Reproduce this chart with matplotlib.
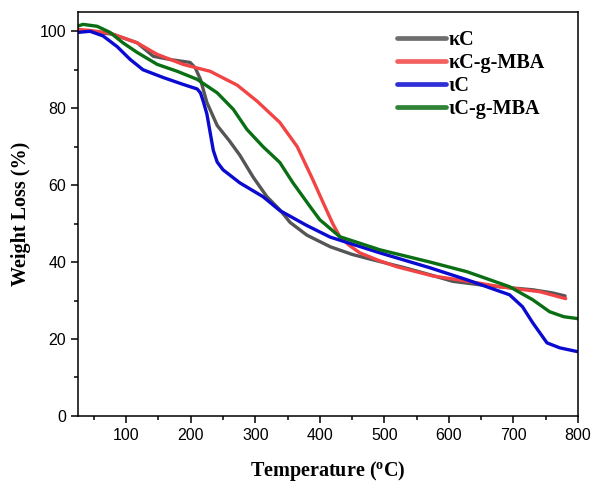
import matplotlib
matplotlib.use("Agg")
import matplotlib.pyplot as plt
from matplotlib.ticker import MultipleLocator

# kappa-carrageenan
kc_t = [24, 45, 80, 117, 142, 170, 199, 207, 215, 225, 241, 260, 276, 297, 318, 338, 354, 380,
        416, 450, 482, 530, 571, 606, 648, 690, 730, 760, 780]
kc_w = [100.2, 100.0, 99.2, 97.0, 93.5, 92.6, 91.9, 90.5, 87.5, 81.5, 75.5, 71.5, 67.8, 62.0, 57.0,
        53.6, 50.3, 47.0, 44.0, 42.0, 40.6, 38.6, 36.7, 35.0, 34.1, 33.4, 32.8, 32.0, 31.2]

# kappa-carrageenan-g-MBA
kcg_t = [24, 45, 75, 117, 148, 188, 230, 272, 303, 338, 365, 389, 405, 420, 431, 446, 462,
         490, 519, 575, 630, 679, 741, 781]
kcg_w = [100.5, 100.2, 99.5, 97.0, 94.0, 91.4, 89.6, 86.0, 81.8, 76.3, 70.0, 61.5, 55.5, 50.0,
         46.6, 44.3, 42.4, 40.5, 38.8, 36.4, 35.0, 33.6, 32.3, 30.5]

# iota-carrageenan
ic_t = [24, 44, 64, 86, 106, 126, 157, 188, 210, 215, 219, 225, 235, 241, 250, 276, 312, 338,
        380, 416, 493, 571, 628, 694, 714, 730, 752, 772, 800]
ic_w = [99.7, 100.0, 98.8, 96.0, 92.7, 90.0, 88.0, 86.2, 85.0, 84.0, 82.0, 78.5, 69.0, 66.0, 64.0,
        60.6, 57.0, 53.4, 49.5, 46.5, 42.4, 38.5, 35.4, 31.5, 28.4, 24.2, 19.0, 17.7, 16.7]

# iota-carrageenan-g-MBA
icg_t = [24, 33, 55, 75, 95, 117, 148, 179, 210, 241, 266, 287, 312, 338, 358, 385, 400, 431,
         493, 571, 628, 694, 730, 756, 778, 800]
icg_w = [101.3, 101.8, 101.3, 99.7, 97.0, 94.5, 91.4, 89.6, 87.5, 84.0, 79.7, 74.5, 70.0, 65.9,
         60.7, 54.4, 51.0, 46.6, 43.2, 40.0, 37.5, 33.6, 30.2, 27.1, 25.8, 25.3]

labels = ["\u03baC", "\u03baC-g-MBA", "\u03b9C", "\u03b9C-g-MBA"]
colors = ["#555555", "#f24444", "#0a0ad0", "#0a6e14"]

fig = plt.figure(figsize=(5.94, 4.82), dpi=100)
ax = fig.add_axes([0.131, 0.137, 0.842, 0.838])

series = [(kc_t, kc_w), (kcg_t, kcg_w), (ic_t, ic_w), (icg_t, icg_w)]
for (t, w), lab, c in zip(series, labels, colors):
    ax.plot(t, w, color=c, lw=2.4, label=lab, solid_capstyle="round")

ax.set_xlim(25, 800)
ax.set_ylim(0, 105)
ax.xaxis.set_major_locator(MultipleLocator(100))
ax.xaxis.set_minor_locator(MultipleLocator(50))
ax.yaxis.set_major_locator(MultipleLocator(20))
ax.yaxis.set_minor_locator(MultipleLocator(10))
ax.tick_params(which="both", direction="out", top=False, right=False, width=1.1)
ax.tick_params(which="major", length=5, labelsize=11.5)
ax.tick_params(which="minor", length=3)
for lbl in ax.get_xticklabels() + ax.get_yticklabels():
    lbl.set_fontfamily("Liberation Sans")
for s in ax.spines.values():
    s.set_linewidth(1.1)

ax.set_xlabel("Temperature ($\\mathregular{^o}$C)", fontfamily="Liberation Serif",
              fontweight="bold", fontsize=14.5, labelpad=12)
ax.set_ylabel("Weight Loss (%)", fontfamily="Liberation Serif", fontweight="bold",
              fontsize=14.5, labelpad=6)

leg = ax.legend(loc="upper right", bbox_to_anchor=(0.95, 0.975), frameon=False,
                handlelength=2.4, handletextpad=0.15, labelspacing=0.15, borderaxespad=0,
                prop={"family": "Liberation Serif", "weight": "bold", "size": 14.5})
for h in leg.get_lines():
    h.set_linewidth(3.4)
    h.set_alpha(0.85)

fig.savefig("out.png", dpi=100)
